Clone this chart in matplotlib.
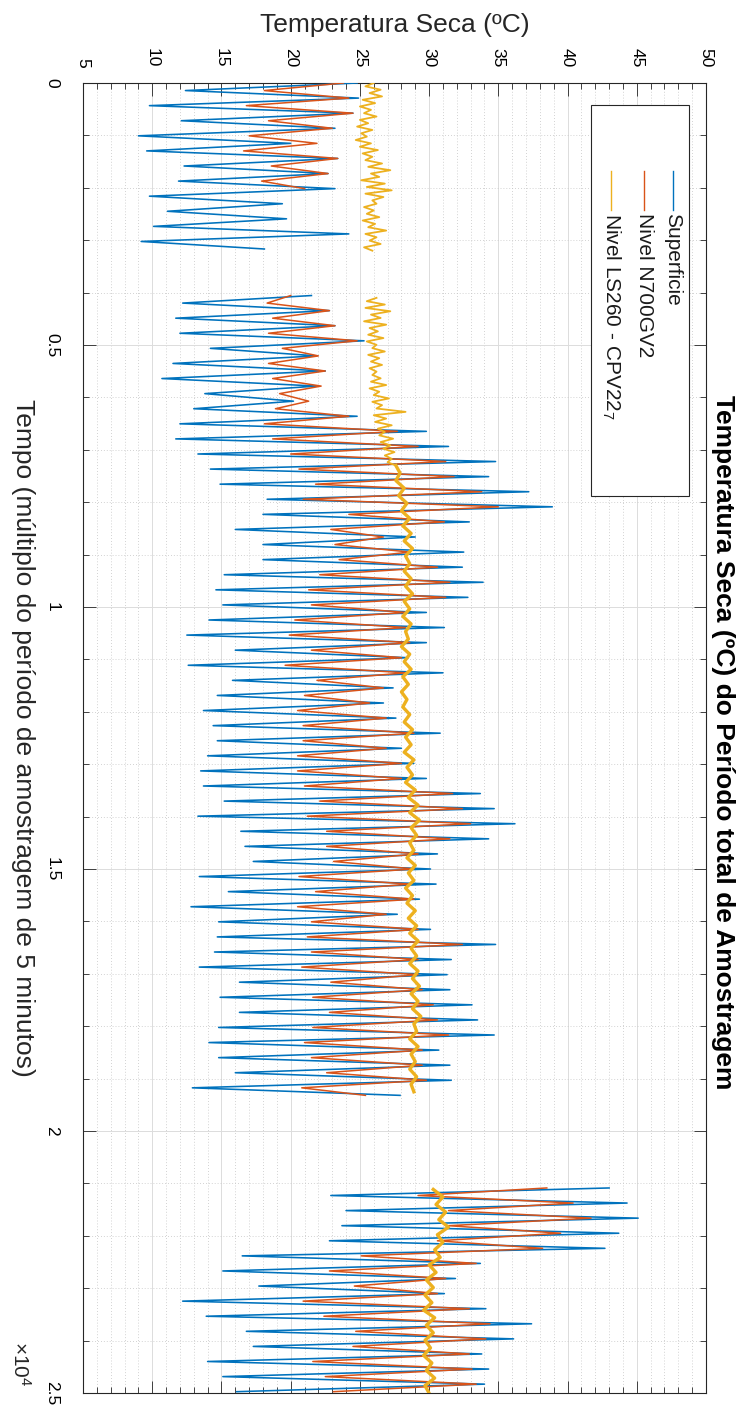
import numpy as np
import matplotlib
matplotlib.use("Agg")
import matplotlib.pyplot as plt
from matplotlib.ticker import MultipleLocator
from matplotlib.patches import Rectangle
from matplotlib.lines import Line2D

plt.rcParams['font.family'] = ['Liberation Sans', 'DejaVu Sans']
plt.rcParams['mathtext.fontset'] = 'custom'
plt.rcParams['mathtext.rm'] = 'Liberation Sans'
plt.rcParams['mathtext.default'] = 'regular'

# amostragem de 5 minutos -> 288 amostras por dia, extremos a cada meio dia
HALF_DAY = 144

# --- bloco 1 (inicio da campanha) ---
seg1_start = 0
blue_seg1 = [24.8, 12.4, 24.9, 9.8, 24.5, 12.1, 23.2, 9.0, 20.0, 9.6, 23.4, 12.3,
             22.7, 11.9, 23.2, 9.8, 19.4, 11.1, 19.7, 10.1, 24.2, 9.2, 18.1]
orange_seg1 = [23.8, 18.1, 24.2, 16.8, 24.5, 18.4, 23.0, 17.0, 21.9, 16.6, 23.4,
               18.6, 22.7, 17.9, 21.0]
yellow_seg1_step = 64
yellow_seg1 = [26.0, 25.4, 26.5, 25.7, 26.6, 25.2, 26.1, 25.0, 25.8, 25.3, 26.2, 25.0,
               25.6, 24.8, 25.9, 25.1, 25.5, 24.7, 25.8, 25.0, 26.3, 25.2, 25.9, 25.4,
               26.6, 25.6, 27.2, 25.8, 26.4, 25.1, 26.8, 25.5, 27.3, 25.4, 26.7, 25.9,
               26.2, 25.3, 26.0, 25.5, 26.4, 25.2, 26.1, 25.6, 26.9, 25.4, 26.2, 25.7,
               26.5, 25.3, 25.9]

# --- bloco 2 ---
seg2_start = 4056
blue_seg2 = [21.5,
             12.2, 22.8, 11.7, 23.2, 12.0, 25.3, 14.2, 21.9, 11.5, 22.5, 10.7, 21.9,
             13.8, 20.2, 13.0, 24.8, 12.0, 29.8, 11.7, 31.4, 13.3, 34.8, 14.2, 34.3,
             14.9, 37.2, 18.3, 38.9, 18.0, 32.9,
             16.0, 29.0, 18.0, 32.5, 18.0, 32.4, 15.2, 33.9, 14.6, 32.8, 15.1, 29.8,
             14.1, 31.1, 12.5, 29.8, 16.0, 28.5, 12.6, 31.0, 15.8, 27.4, 14.7, 26.7,
             13.7, 27.6, 14.4, 30.8,
             14.7, 28.0, 14.0, 28.9, 13.5, 29.8, 13.7, 33.7, 15.2, 34.7, 13.3, 36.2,
             16.4, 34.3, 16.7, 30.6, 17.3, 30.1, 13.4, 30.5, 15.5, 29.3, 12.8, 27.7,
             14.8, 30.1, 14.7, 34.8,
             14.5, 31.6, 13.4, 31.3, 16.3, 31.5, 14.9, 33.1, 16.3, 33.5, 14.8, 34.7,
             14.1, 30.7, 14.8, 31.5, 16.0, 31.6, 12.9, 27.9]
orange_seg2 = [20.0,
               18.3, 22.8, 18.7, 23.2, 18.4, 24.8, 19.4, 22.0, 18.4, 22.5, 18.7, 22.2,
               19.2, 21.3, 18.9, 24.2, 18.1, 27.7, 18.7, 29.2, 20.0, 31.2, 20.6, 31.8,
               21.8, 33.8, 20.9, 35.0, 24.2, 31.1,
               22.9, 26.7, 23.2, 28.6, 23.5, 30.6, 22.1, 31.5, 21.3, 31.2, 21.5, 28.3,
               20.3, 28.3, 19.9, 28.6, 21.5, 28.0, 19.6, 28.3, 21.9, 26.7, 21.0, 25.7,
               20.5, 26.9, 20.9, 28.9,
               20.9, 26.9, 20.5, 28.0, 20.5, 28.0, 21.0, 31.7, 22.1, 32.4, 21.2, 33.0,
               22.6, 31.5, 22.6, 29.2, 23.1, 28.9, 20.6, 28.6, 21.8, 28.9, 20.5, 26.9,
               21.5, 29.2, 21.2, 32.4,
               21.5, 29.2, 20.8, 29.2, 22.9, 29.5, 21.6, 30.3, 22.8, 30.6, 21.6, 31.4,
               21.0, 29.5, 21.5, 29.5, 22.6, 29.8, 20.8, 25.4]
yellow_seg2a_start = 4100
yellow_seg2a = [26.2, 25.5, 26.8, 25.4, 27.2, 25.8, 26.5, 25.3, 26.9, 25.7, 26.3, 25.6,
                26.7, 25.5, 26.2, 25.9, 26.8, 25.6, 26.4, 25.8, 26.6, 25.7, 26.2, 25.9,
                26.5, 25.8, 26.9, 25.7, 26.4, 26.0, 27.1, 25.9, 26.6, 26.2, 28.3, 26.0,
                26.9, 26.1, 27.3, 26.3, 26.8, 26.4, 27.4, 26.5, 27.2, 26.7, 27.5, 26.8,
                27.3, 27.0, 27.6]
yellow_seg2b_start = 7300
yellow_seg2b = [27.6, 27.9, 27.6, 28.2, 27.8, 28.4, 28.0,
                28.6, 28.1, 28.7, 28.2, 28.8, 28.3, 28.6, 28.2, 28.7, 28.3, 28.8, 28.2,
                28.6, 28.1, 28.7, 28.3, 28.5, 28.0, 28.6, 28.2, 28.7, 28.1, 28.5, 28.0,
                28.4, 28.1, 28.6, 28.2,
                28.8, 28.3, 28.7, 28.2, 28.9, 28.4, 28.8, 28.3, 29.0, 28.5, 29.2, 28.6,
                29.3, 28.7, 29.1, 28.6, 28.9, 28.4, 29.0, 28.5, 28.9, 28.3, 28.8, 28.4,
                29.0, 28.5, 29.1, 28.6, 29.2,
                28.7, 29.1, 28.6, 29.2, 28.8, 29.3, 28.7, 29.2, 28.8, 29.4, 28.9, 29.1,
                28.6, 29.2, 28.7, 29.0, 28.6, 29.1, 28.7, 28.9]

# --- bloco 3 ---
seg3_start = 21087
blue_seg3 = [43.0, 22.9, 44.3, 24.0, 45.1, 23.7, 43.7, 22.8, 42.7, 16.5, 33.7, 15.1,
             31.9, 17.7, 31.1, 12.2, 34.1, 13.9, 37.4, 16.8, 36.1, 17.3, 33.8, 14.0,
             34.3, 15.1, 34.0, 16.1]
orange_seg3 = [38.5, 29.2, 40.4, 31.4, 41.7, 31.4, 39.5, 30.6, 38.2, 25.1, 33.4, 22.8,
               31.2, 24.6, 30.6, 20.9, 32.9, 22.4, 34.4, 24.7, 34.1, 24.5, 32.9, 21.6,
               33.1, 22.5, 33.4, 23.1]
yellow_seg3_start = 21115
yellow_seg3 = [30.3, 31.0, 30.5, 31.2, 30.7, 31.4, 30.6, 31.0, 30.4, 30.8, 30.0, 30.5,
               29.8, 30.3, 29.7, 30.2, 29.6, 30.4, 29.8, 30.3, 29.7, 30.1, 29.6, 30.2,
               29.8, 30.4, 29.7, 30.0]

labels = ['Superficie', 'Nivel N700GV2', 'Nivel LS260 - CPV22$_7$']
colors = ['#0072BD', '#D95319', '#EDB120']


def series(blocks):
    """Junta blocos (inicio, passo, valores) separados por NaN."""
    tt, vv = [], []
    for start, step, vals in blocks:
        tt.append(start + step * np.arange(len(vals)))
        vv.append(np.asarray(vals, dtype=float))
        tt.append([np.nan])
        vv.append([np.nan])
    return np.concatenate(tt), np.concatenate(vv)


t_blue, v_blue = series([(seg1_start, HALF_DAY, blue_seg1),
                         (seg2_start, HALF_DAY, blue_seg2),
                         (seg3_start, HALF_DAY, blue_seg3)])
t_orange, v_orange = series([(seg1_start, HALF_DAY, orange_seg1),
                             (seg2_start, HALF_DAY, orange_seg2),
                             (seg3_start, HALF_DAY, orange_seg3)])
t_yel_thin, v_yel_thin = series([(0, yellow_seg1_step, yellow_seg1),
                                 (yellow_seg2a_start, yellow_seg1_step, yellow_seg2a)])
t_yel_thick, v_yel_thick = series([(yellow_seg2b_start, HALF_DAY, yellow_seg2b),
                                   (yellow_seg3_start, HALF_DAY, yellow_seg3)])

W, H = 743, 1415
fig = plt.figure(figsize=(W / 100, H / 100), dpi=100)
ax = fig.add_axes([83 / W, 1 - 1393 / H, 623 / W, 1310 / H])

# grafico girado: temperatura na horizontal, tempo na vertical
ax.plot(v_blue, t_blue, color=colors[0], lw=1.15, zorder=3)
ax.plot(v_orange, t_orange, color=colors[1], lw=1.1, zorder=3)
ax.plot(v_yel_thin, t_yel_thin, color=colors[2], lw=1.3, zorder=4)
ax.plot(v_yel_thick, t_yel_thick, color=colors[2], lw=2.4, zorder=4)

ax.set_xlim(5, 50)
ax.set_ylim(25000, 0)
ax.set_xticks(np.arange(5, 51, 5))
ax.xaxis.set_minor_locator(MultipleLocator(1))
ax.set_yticks(np.arange(0, 25001, 5000))
ax.set_yticklabels(['0', '0.5', '1', '1.5', '2', '2.5'])
ax.yaxis.set_minor_locator(MultipleLocator(1000))

ax.xaxis.tick_top()
ax.tick_params(which='both', direction='in', top=True, bottom=True, left=True,
               right=True, labeltop=True, labelbottom=False, color='#262626',
               width=0.6)
ax.tick_params(which='major', length=9)
ax.tick_params(which='minor', length=4)
ax.tick_params(axis='x', labelrotation=-90, labelsize=12.5, pad=11)
ax.tick_params(axis='y', labelrotation=-90, labelsize=12.5, pad=17)
for lab in ax.get_yticklabels():
    lab.set_va('center')

ax.grid(which='major', color='#dcdcdc', lw=0.7, ls='-')
ax.grid(which='minor', color='#c4c4c4', lw=0.6, ls=(0, (1, 2.5)))
ax.set_axisbelow(True)
for sp in ax.spines.values():
    sp.set_color('#262626')
    sp.set_linewidth(0.8)

# legenda desenhada a mao (texto girado)
ax.add_patch(Rectangle((0.8154, 0.6847), 0.1573, 0.2985, transform=ax.transAxes,
                       facecolor='white', edgecolor='#262626', lw=0.8, zorder=6))
for xf, lab, c in zip([0.947, 0.9005, 0.8475], labels, colors):
    ax.add_line(Line2D([xf, xf], [0.9328, 0.9031], transform=ax.transAxes,
                       color=c, lw=1.0, zorder=7))
    ax.text(xf, 0.9005, lab, transform=ax.transAxes, rotation=-90,
            rotation_mode='anchor', ha='left', va='center', fontsize=15,
            color='#1a1a1a', zorder=7)

fig.text(395 / W, 1 - 25 / H, 'Temperatura Seca (ºC)', ha='center', va='center',
         fontsize=19, color='#262626')
fig.text(23 / W, 1 - 738 / H, 'Tempo (múltiplo do período de amostragem de 5 minutos)',
         rotation=-90, ha='center', va='center', fontsize=19, color='#262626')
fig.text(723 / W, 1 - 742 / H,
         'Temperatura Seca (ºC) do Período total de Amostragem',
         rotation=-90, ha='center', va='center', fontsize=19, fontweight='bold')
fig.text(20 / W, 1 - 1364 / H, r'$\times10^{4}$', rotation=-90, ha='center',
         va='center', fontsize=15, color='#262626')

fig.savefig('out.png', dpi=100)
